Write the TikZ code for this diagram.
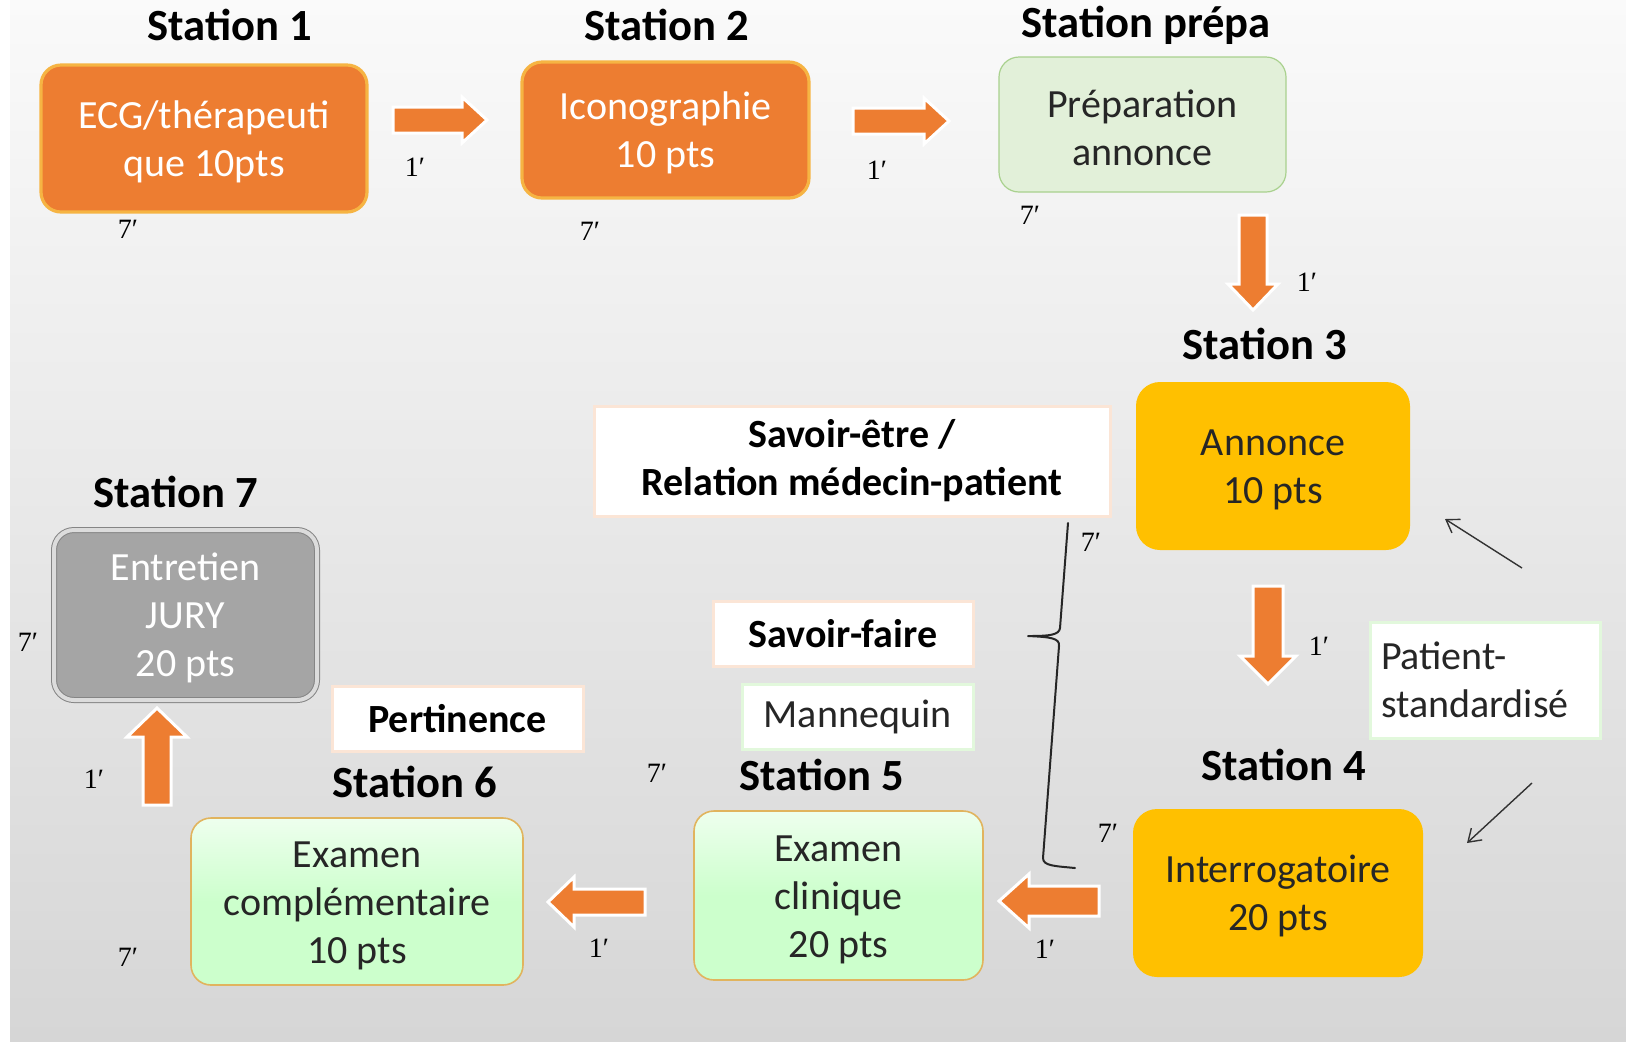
\documentclass[tikz,border=0pt]{standalone}
\usepackage{fontspec}
\setmainfont{Carlito}
\newfontfamily\primefont{Liberation Serif}
\usetikzlibrary{arrows.meta}

\definecolor{bgtop}{HTML}{FAFAFA}
\definecolor{bgbot}{HTML}{D6D6D6}
\definecolor{orangefill}{HTML}{ED7D31}
\definecolor{orangeedge}{HTML}{F6B443}
\definecolor{goldfill}{HTML}{FFC000}
\definecolor{prepfill}{HTML}{E2F0D9}
\definecolor{prepedge}{HTML}{A9D18E}
\definecolor{greenfill}{HTML}{CCFFCC}
\definecolor{greentop}{HTML}{EEFFEE}
\definecolor{greenedge}{HTML}{E1B45E}
\definecolor{juryfill}{HTML}{A5A5A5}
\definecolor{juryedge}{HTML}{858585}
\definecolor{juryring}{HTML}{DCDCDC}
\definecolor{peach}{HTML}{FBE5D6}
\definecolor{mint}{HTML}{E2F8DC}

\begin{document}
\begin{tikzpicture}[x=0.5pt,y=-0.5pt,
  box/.style={rounded corners=10pt, align=center, inner sep=0pt,
    font=\fontsize{20}{24}\selectfont},
  orangebox/.style={box, fill=orangefill, draw=orangeedge, line width=1.6pt, text=white},
  prepbox/.style={box, fill=prepfill, draw=prepedge, line width=0.6pt, text=black!85},
  yellowbox/.style={box, rounded corners=12pt, fill=goldfill, text=black!85},
  greenbox/.style={box, top color=greentop, bottom color=greenfill, middle color=greenfill,
    draw=greenedge, line width=0.8pt, text=black!85},
  jurybox/.style={box, fill=juryfill, draw=juryedge, double=juryring,
    double distance=2pt, line width=0.5pt, text=white},
  tagbox/.style={fill=white, draw=peach, line width=1.5pt, align=center, inner sep=0pt,
    font=\fontsize{20}{24}\selectfont\bfseries},
  mintbox/.style={fill=white, draw=mint, line width=1.5pt, inner sep=0pt,
    font=\fontsize{20}{24}\selectfont, text=black!85},
  title/.style={font=\fontsize{22.3}{26}\selectfont\bfseries, inner sep=0pt},
  tick/.style={font=\primefont\fontsize{14}{16}\selectfont, inner sep=0pt},
  thin arrow/.style={line width=0.7pt, black!80, -{Straight Barb[length=6pt,width=8pt]}},
  pics/fatarrow/.style args={#1/#2/#3/#4}{code={
    \filldraw[fill=orangefill, draw=white, line width=1.5pt, line join=miter]
      (0,-#2) -- ({#1-#4},-#2) -- ({#1-#4},-#3) -- (#1,0) -- ({#1-#4},#3)
      -- ({#1-#4},#2) -- (0,#2) -- cycle;
  }}
]
\useasboundingbox (0,0) rectangle (1626,1041);

% backdrop
\fill[white] (0,0) rectangle (1626,1041);
\shade[top color=bgtop, bottom color=bgbot] (10,0) rectangle (1626,1041);

% station titles
\node[title] (t1) at (230,25)  {Station 1};
\node[title] (t2) at (667,25)  {Station 2};
\node[title] (tp) at (1146,25) {Station prépa};
\node[title] (t3) at (1265,344) {Station 3};
\node[title] (t7) at (176,492) {Station 7};
\node[title] (t6) at (415,782) {Station 6};
\node[title] (t5) at (822,775) {Station 5};
\node[title] (t4) at (1284,765) {Station 4};

% station boxes
\node[orangebox, minimum width=163pt, minimum height=73.5pt] (s1) at (204,138.5)
  {\strut ECG/thérapeuti\\que 10pts};
\node[orangebox, minimum width=143.5pt, minimum height=68pt] (s2) at (665.5,130)
  {\strut Iconographie\\10 pts};
\node[prepbox, minimum width=143.5pt, minimum height=67.5pt] (sp) at (1142.5,124.5)
  {\strut Préparation\\annonce};
\node[yellowbox, minimum width=137pt, minimum height=84pt] (s3) at (1273,466)
  {\strut Annonce\\10 pts};
\node[yellowbox, minimum width=145pt, minimum height=84pt] (s4) at (1278,893)
  {\strut Interrogatoire\\20 pts};
\node[greenbox, minimum width=144.5pt, minimum height=84.5pt] (s5) at (838.5,895.5)
  {\strut Examen\\clinique\\20 pts};
\node[greenbox, minimum width=166pt, minimum height=83.5pt] (s6) at (357,901.5)
  {\strut Examen\\complémentaire\\10 pts};
\node[jurybox, minimum width=131.5pt, minimum height=85pt] (s7) at (185.5,615)
  {\strut Entretien\\JURY\\20 pts};

% skill tags
\node[tagbox, minimum width=258pt, minimum height=55pt] (se) at (852,461)
  {Savoir-être /\\Relation médecin-patient};
\node[tagbox, minimum width=130pt, minimum height=32.5pt] (sf) at (843,633.5) {Savoir-faire};
\node[mintbox, minimum width=115.5pt, minimum height=32.5pt] (mq) at (857.5,716.5) {Mannequin};
\node[tagbox, minimum width=125.5pt, minimum height=32.5pt] (pe) at (457.5,718.5) {Pertinence};
\node[mintbox, minimum width=115pt, minimum height=58pt, align=left,
  text width=104pt] (ps) at (1485,680) {Patient-\\standardisé};

% flow arrows between stations
\pic at (393,120) {fatarrow=94/13/23/25};
\pic at (853,121) {fatarrow=96/13/23/25};
\pic[rotate=-90] at (1253,215) {fatarrow=95/14/25/26};
\pic[rotate=-90] at (1268,586) {fatarrow=98/15/28/28};
\pic[rotate=180] at (1099,901) {fatarrow=100/15/27/30};
\pic[rotate=180] at (645,902) {fatarrow=97/13/25/26};
\pic[rotate=90] at (157,805) {fatarrow=97/14/30/29};

% timing marks
\node[tick] (m1)  at (128,229) {7′};
\node[tick] (m2)  at (415,167) {1′};
\node[tick] (m3)  at (590,231) {7′};
\node[tick] (m4)  at (877,170) {1′};
\node[tick] (m5)  at (1030,215) {7′};
\node[tick] (m6)  at (1307,282) {1′};
\node[tick] (m7)  at (1091,542) {7′};
\node[tick] (m8)  at (1319,646) {1′};
\node[tick] (m9)  at (28,642) {7′};
\node[tick] (m10) at (657,773) {7′};
\node[tick] (m11) at (1108,833) {7′};
\node[tick] (m12) at (1045,949) {1′};
\node[tick] (m13) at (599,948) {1′};
\node[tick] (m14) at (94,779) {1′};
\node[tick] (m15) at (128,957) {7′};

% brace grouping the skills
\draw[line width=1pt, black!85, line cap=round, line join=round]
  (1068,523) -- (1060,628) .. controls (1059,635) and (1050,636) .. (1028,636)
  .. controls (1050,637) and (1060,638) .. (1059,646)
  -- (1043,858) .. controls (1043,866) and (1055,866) .. (1075,868);

% standardised patient feeds stations 3 and 4
\coordinate (pu0) at (1522,568);
\coordinate (pu1) at (1445,519);
\coordinate (pd0) at (1532,783);
\coordinate (pd1) at (1467,843);
\draw[thin arrow] (pu0) -- (pu1);
\draw[thin arrow] (pd0) -- (pd1);
\end{tikzpicture}
\end{document}
